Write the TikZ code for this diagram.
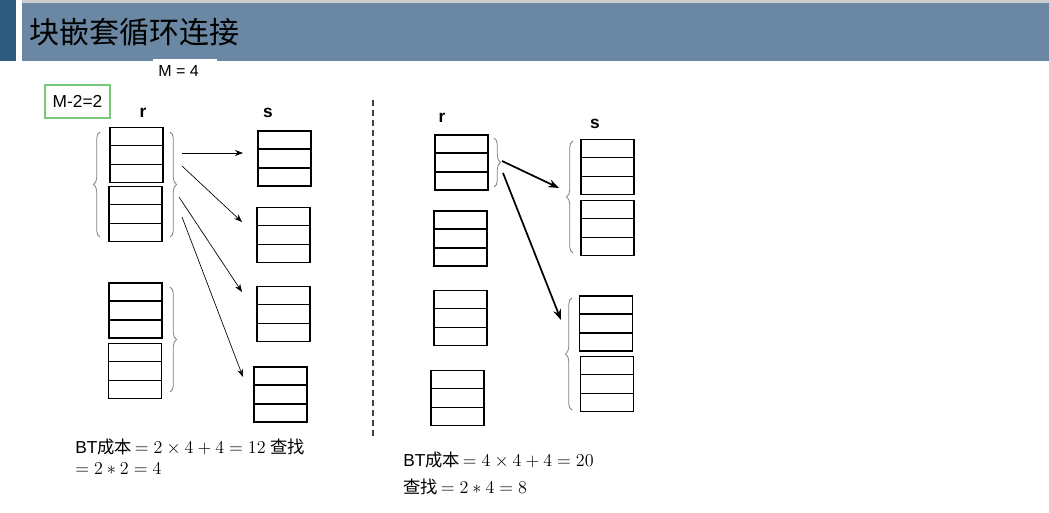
\documentclass[tikz,border=0pt]{standalone}
\usepackage{fontspec}
\setmainfont{Liberation Sans}
\newfontfamily\cjk{Noto Sans CJK SC}
\usetikzlibrary{calc,decorations.pathreplacing,arrows.meta}
\definecolor{bandblue}{RGB}{106,136,163}
\definecolor{stripblue}{RGB}{46,90,128}
\definecolor{boxgreen}{RGB}{120,200,120}
\tikzset{
  blk/.style={draw, line width=1.1pt, minimum width=53*0.75pt, minimum height=55*0.75pt, inner sep=0pt},
  brc/.style={draw=gray, line width=0.6pt, decorate, decoration={brace, amplitude=5pt}},
  thinarr/.style={-{Stealth[length=6pt,width=4.5pt]}, line width=0.5pt},
  thickarr/.style={-{Stealth[length=8pt,width=6pt]}, line width=1.3pt},
  lbl/.style={font=\bfseries\fontsize{13}{13}\selectfont},
  formula/.style={anchor=west, font=\fontsize{13}{15}\selectfont, inner sep=0pt}
}
% 公式用大一点的字号
\newcommand{\costm}[1]{\scalebox{1.13}{\fontsize{12}{14}\selectfont$#1$}}
% 三行的块
\newcommand{\blk}[2]{%
  \node[blk] (#1) at (#2) {};
  \draw[line width=1.1pt] ($(#1.north west)!1/3!(#1.south west)$) -- ($(#1.north east)!1/3!(#1.south east)$);
  \draw[line width=1.1pt] ($(#1.north west)!2/3!(#1.south west)$) -- ($(#1.north east)!2/3!(#1.south east)$);
}
\begin{document}
\begin{tikzpicture}[x=0.75pt, y=-0.75pt]
	\useasboundingbox (0,0) rectangle (1049,513);
	
	% 标题栏
	\fill[stripblue] (0,0) rectangle (16,61);
	\fill[bandblue] (22,0) rectangle (1049,61);
	\fill[gray!40] (22,0) rectangle (1049,3);
	\node[anchor=west, font=\cjk\fontsize{22.5}{23}\selectfont] (title) at (25,32) {块嵌套循环连接};
	\node[fill=white, minimum width=64*0.75pt, minimum height=23*0.75pt, inner sep=0pt] (mbox) at (185,71) {};
	\node[anchor=west, inner sep=0pt, font=\fontsize{12}{12}\selectfont] (m) at (158,71) {M = 4};
	\node[draw=boxgreen, line width=0.8pt, minimum width=65*0.75pt, minimum height=33*0.75pt, inner sep=0pt, font=\fontsize{13}{13}\selectfont] (m2) at (77.5,101.5) {M-2=2};
	
	% 左边：r 和 s
	\node[lbl] (rl) at (143,113) {r};
	\node[lbl] (sl) at (268,113) {s};
	\blk{ra}{136.5,155}
	\blk{rb}{135.5,214}
	\blk{rc}{135.5,310.5}
	\blk{rd}{135,371}
	\blk{sa}{284.5,158.5}
	\blk{sb}{283.5,235}
	\blk{sc}{283.5,314}
	\blk{sd}{280.5,394.5}
	
	% 括号
	\draw[brc] (100,237) -- (100,132);
	\draw[brc] (170,132) -- (170,237);
	\draw[brc] (170,287) -- (170,392);
	
	% 箭头
	\coordinate (a1) at (182,153);
	\coordinate (a2) at (182,166);
	\coordinate (a3) at (179,197);
	\coordinate (a4) at (182,217);
	\draw[thinarr] (a1) -- (243,153);
	\draw[thinarr] (a2) -- (242,222);
	\draw[thinarr] (a3) -- (242,292);
	\draw[thinarr] (a4) -- (243,377);
	
	\node[formula] (bt1) at (75,447) {BT{\cjk 成本}\,\costm{=2\times4+4=12} {\cjk 查找}};
	\node[formula] (q1) at (75,469) {\costm{=2*2=4}};
	
	% 分隔虚线
	\draw[gray!50!black, line width=1.5pt, dash pattern=on 4.5pt off 3pt] (373,100) -- (373,437);
	
	% 右边：r 和 s
	\node[lbl] (rr) at (442,118) {r};
	\node[lbl] (sr) at (595,124) {s};
	\blk{qa}{461.5,162.5}
	\blk{qb}{460.5,238.5}
	\blk{qc}{460.5,318}
	\blk{qd}{457.5,398}
	\blk{ta}{607.5,167}
	\blk{tb}{607.5,228}
	\blk{tc}{606,323.5}
	\blk{td}{607,384}
	
	\draw[brc] (494,138) -- (494,187);
	\draw[brc] (573,253) -- (573,141);
	\draw[brc] (572,410) -- (572,298);
	
	\coordinate (b1) at (502,161);
	\coordinate (b2) at (503,173);
	\draw[thickarr] (b1) -- (559,188);
	\draw[thickarr] (b2) -- (561,320);
	
	\node[formula] (bt2) at (403,460) {BT{\cjk 成本}\,\costm{=4\times4+4=20}};
	\node[formula] (q2) at (403,487) {{\cjk 查找}\,\costm{=2*4=8}};
\end{tikzpicture}
\end{document}
